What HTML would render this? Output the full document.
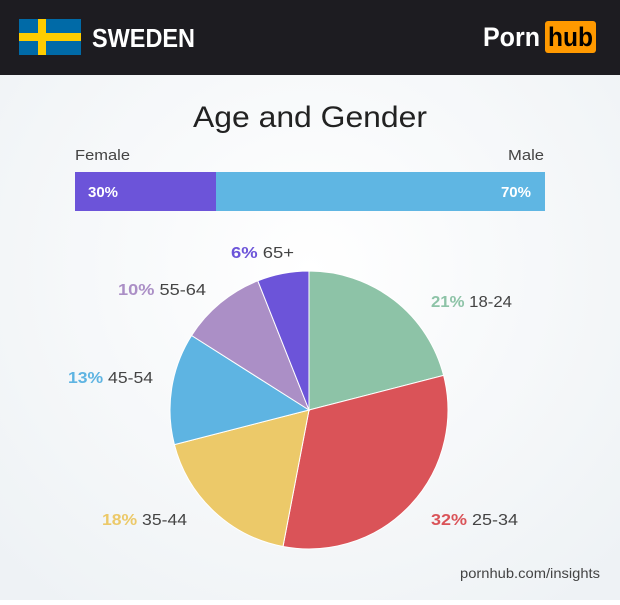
<!DOCTYPE html>
<html><head><meta charset="utf-8"><style>
body{margin:0;width:620px;height:600px;overflow:hidden;font-family:"Liberation Sans",sans-serif;}
</style></head><body>
<svg width="620" height="600" xmlns="http://www.w3.org/2000/svg" font-family="Liberation Sans, sans-serif">
<defs><radialGradient id="bg" cx="50%" cy="45%" r="70%"><stop offset="0" stop-color="#ffffff"/><stop offset="1" stop-color="#eef2f5"/></radialGradient></defs>
<rect width="620" height="600" fill="url(#bg)"/>
<rect width="620" height="75" fill="#1d1c21"/>
<rect x="19" y="19" width="62" height="36" fill="#006aa7"/>
<rect x="19" y="33" width="62" height="8" fill="#fecc00"/>
<rect x="38" y="19" width="8" height="36" fill="#fecc00"/>
<text x="92" y="47" fill="#fff" font-size="26" font-weight="bold" textLength="103" lengthAdjust="spacingAndGlyphs">SWEDEN</text>
<text x="483" y="46" fill="#fff" font-size="27" font-weight="bold" textLength="57" lengthAdjust="spacingAndGlyphs">Porn</text>
<rect x="545" y="21" width="51" height="32" rx="3" fill="#ff9900"/>
<text x="548" y="46" fill="#000" font-size="27" font-weight="bold" textLength="45" lengthAdjust="spacingAndGlyphs">hub</text>
<text x="193" y="127" fill="#222" font-size="30" textLength="234" lengthAdjust="spacingAndGlyphs">Age and Gender</text>
<text x="75" y="160" fill="#444" font-size="15" textLength="55" lengthAdjust="spacingAndGlyphs">Female</text>
<text x="508" y="160" fill="#444" font-size="15" textLength="36" lengthAdjust="spacingAndGlyphs">Male</text>
<rect x="75" y="172" width="141" height="39" fill="#6c54d9"/>
<rect x="216" y="172" width="329" height="39" fill="#5fb6e3"/>
<text x="88" y="197" fill="#fff" font-size="15" font-weight="bold">30%</text>
<text x="531" y="197" fill="#fff" font-size="15" font-weight="bold" text-anchor="end">70%</text>
<g stroke="#fff" stroke-width="1">
<path d="M309,410 L309,271 A139,139 0 0 1 443.6,375.4 Z" fill="#8dc3a7"/>
<path d="M309,410 L443.6,375.4 A139,139 0 0 1 283,546.5 Z" fill="#da5358"/>
<path d="M309,410 L283,546.5 A139,139 0 0 1 174.4,444.6 Z" fill="#ecc969"/>
<path d="M309,410 L174.4,444.6 A139,139 0 0 1 191.6,335.5 Z" fill="#5eb4e2"/>
<path d="M309,410 L191.6,335.5 A139,139 0 0 1 257.8,280.8 Z" fill="#ab8fc6"/>
<path d="M309,410 L257.8,280.8 A139,139 0 0 1 309,271 Z" fill="#6c54d9"/>
</g>
<g font-size="16" fill="#444" lengthAdjust="spacingAndGlyphs">
<text x="231" y="258" textLength="63" lengthAdjust="spacingAndGlyphs"><tspan fill="#6c54d9" font-weight="bold">6%</tspan> 65+</text>
<text x="118" y="295" textLength="88" lengthAdjust="spacingAndGlyphs"><tspan fill="#ab8fc6" font-weight="bold">10%</tspan> 55-64</text>
<text x="68" y="383" textLength="85" lengthAdjust="spacingAndGlyphs"><tspan fill="#5eb4e2" font-weight="bold">13%</tspan> 45-54</text>
<text x="102" y="525" textLength="85" lengthAdjust="spacingAndGlyphs"><tspan fill="#ecc969" font-weight="bold">18%</tspan> 35-44</text>
<text x="431" y="307" textLength="81" lengthAdjust="spacingAndGlyphs"><tspan fill="#8dc3a7" font-weight="bold">21%</tspan> 18-24</text>
<text x="431" y="525" textLength="87" lengthAdjust="spacingAndGlyphs"><tspan fill="#da5358" font-weight="bold">32%</tspan> 25-34</text>
</g>
<text x="460" y="578" fill="#444" font-size="14" textLength="140" lengthAdjust="spacingAndGlyphs">pornhub.com/insights</text>
</svg>
</body></html>
